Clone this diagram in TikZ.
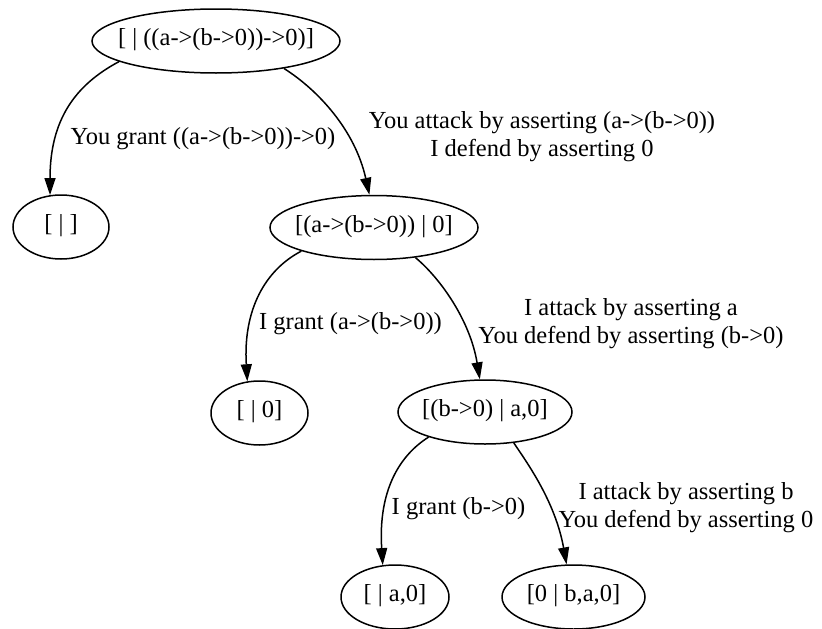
\documentclass[tikz,border=0pt]{standalone}
\usepackage{fontspec}
\setmainfont{Liberation Serif}
\usetikzlibrary{arrows.meta,shapes.geometric}
\begin{document}
\begin{tikzpicture}[x=1pt,y=-1pt,
  st/.style={draw, ellipse, line width=1.5pt, inner sep=0pt, minimum height=64pt,
             text height=9pt, text depth=-9pt,
             execute at begin node={\hbox to 0pt\bgroup\hss},
             execute at end node={\hss\egroup},
             font=\fontsize{24.5}{28}\selectfont},
  lab/.style={font=\fontsize{24.5}{28}\selectfont, align=center, inner sep=0pt},
  arr/.style={line width=1.5pt, -{Triangle[length=17pt,width=11pt]}}]
\useasboundingbox (0,0) rectangle (822,629);

\node[st, minimum width=248pt] (r)  at (216,41)    {[ | ((a->(b->0))->0)]};
\node[st, minimum width=96pt]  (n1) at (61,227)    {[ | ]};
\node[st, minimum width=208pt] (n2) at (374,227.5) {[(a->(b->0)) | 0]};
\node[st, minimum width=97pt]  (g2) at (259.5,413) {[ | 0]};
\node[st, minimum width=174pt] (n3) at (485,412)   {[(b->0) | a,0]};
\node[st, minimum width=108pt] (n4) at (395,597)   {[ | a,0]};
\node[st, minimum width=143pt] (n5) at (573.5,597) {[0 | b,a,0]};

\draw[arr] (r.192.3)  .. controls (75,85)   and (50,120)  .. (n1.109.5);
\draw[arr] (r.338.6)  .. controls (318,90)  and (355,130) .. (n2.98.7);
\draw[arr] (n2.198.3) .. controls (265,270) and (243,310) .. (g2.111.3);
\draw[arr] (n2.324.7) .. controls (440,278) and (470,320) .. (n3.99.2);
\draw[arr] (n3.204.5) .. controls (400,455) and (378,490) .. (n4.111.8);
\draw[arr] (n3.313)   .. controls (525,460) and (555,500) .. (n5.102.2);

\node[lab, anchor=base] (l1) at (203,144) {You grant ((a->(b->0))->0)};
\node[lab] (l2) at (542,137) {You attack by asserting (a->(b->0))\\I defend by asserting 0};
\node[lab, anchor=base] (l3) at (350.5,329) {I grant (a->(b->0))};
\node[lab] (l4) at (631,324) {I attack by asserting a\\You defend by asserting (b->0)};
\node[lab, anchor=base] (l5) at (458.5,514) {I grant (b->0)};
\node[lab] (l6) at (686,508) {I attack by asserting b\\You defend by asserting 0};
\end{tikzpicture}
\end{document}
